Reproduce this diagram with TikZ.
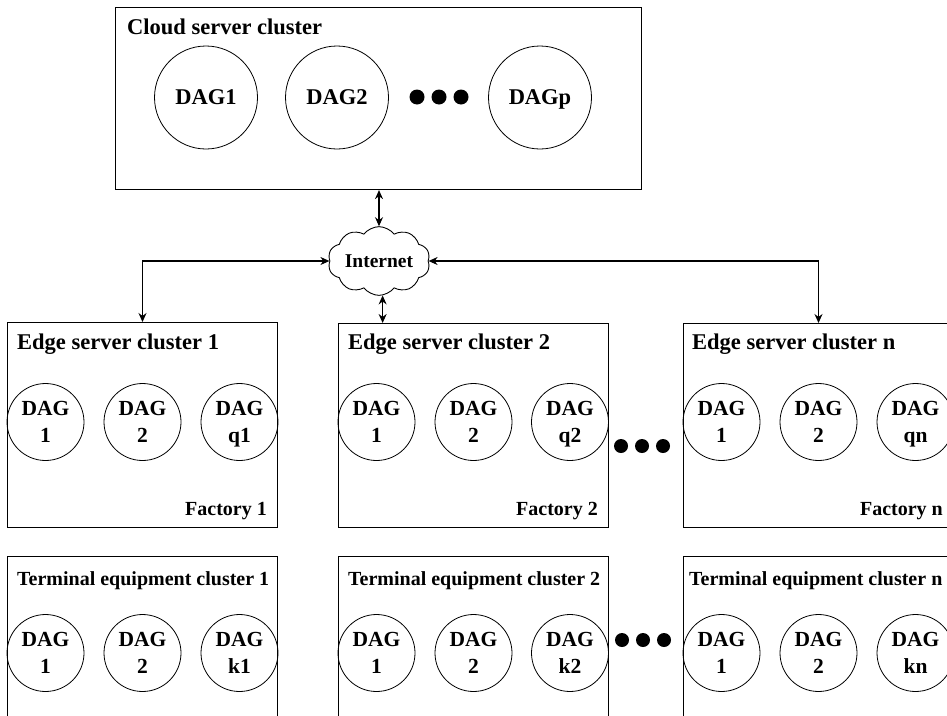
\documentclass[tikz,border=0pt]{standalone}
\usepackage{fontspec}
\setmainfont{Liberation Serif}
\usetikzlibrary{shapes.symbols,arrows.meta}
% keep descenders (p, q) from shifting a label off its circle's centre
\newcommand{\nodepth}[1]{\raisebox{0pt}[\height][0pt]{#1}}
\tikzset{
  cluster/.style={draw, line width=1.1pt, anchor=north west, inner sep=0},
  dagnode/.style={draw, circle, line width=0.8pt, minimum size=77pt, inner sep=0,
    align=center, font=\fontsize{21.5}{27}\selectfont\bfseries},
  bigdag/.style={dagnode, minimum size=103pt, font=\fontsize{22.5}{27}\selectfont\bfseries},
  heading/.style={anchor=base west, inner sep=0, font=\fontsize{22.5}{27}\selectfont\bfseries},
  subhead/.style={anchor=base west, inner sep=0, font=\fontsize{20}{24}\selectfont\bfseries},
  factory/.style={anchor=base east, inner sep=0, font=\fontsize{20}{24}\selectfont\bfseries},
  dot/.style={circle, fill, minimum size=14pt, inner sep=0},
  bigdot/.style={dot, minimum size=15pt},
  link/.style={line width=1.1pt, {Stealth[length=9pt,width=8pt]}-{Stealth[length=9pt,width=8pt]}},
}
\begin{document}
\begin{tikzpicture}[x=1pt, y=-1pt]
\useasboundingbox (0,0) rectangle (947,715);
\clip (0,0) rectangle (947,715);

% cloud tier
\node[cluster, minimum width=526pt, minimum height=182pt] (cbox) at (115,7) {};
\node[heading] (ctitle) at (127,34) {Cloud server cluster};
\node[bigdag] (c1) at (206,97.5) {DAG1};
\node[bigdag] (c2) at (337,97.5) {DAG2};
\node[bigdot] (cd1) at (417,97) {};
\node[bigdot] (cd2) at (439,97) {};
\node[bigdot] (cd3) at (461,97) {};
\node[bigdag] (cp) at (540,97.5) {\nodepth{DAGp}};

% internet
\node[cloud, draw, line width=0.9pt, cloud puffs=10, cloud puff arc=105, aspect=1.7,
      minimum width=102pt, minimum height=60pt, inner sep=0,
      font=\fontsize{19.5}{23}\selectfont\bfseries] (inet) at (379,261) {Internet};

% edge tier
\node[cluster, minimum width=270pt, minimum height=205pt] (e1) at (7,322) {};
\node[cluster, minimum width=270pt, minimum height=204pt] (e2) at (338,323) {};
\node[cluster, minimum width=270pt, minimum height=204pt] (en) at (683,323) {};
\node[heading] (e1t) at (17,349) {Edge server cluster 1};
\node[heading] (e2t) at (348,349) {Edge server cluster 2};
\node[heading] (ent) at (692,349) {Edge server cluster n};
\node[factory] (e1f) at (267,515) {Factory 1};
\node[factory] (e2f) at (598,515) {Factory 2};
\node[factory] (enf) at (943,515) {Factory n};

\node[dagnode] (e1a) at (45.5,422) {DAG\\1};
\node[dagnode] (e1b) at (142.5,422) {DAG\\2};
\node[dagnode] (e1c) at (239.5,422) {DAG\\\nodepth{q1}};
\node[dagnode] (e2a) at (376.5,422) {DAG\\1};
\node[dagnode] (e2b) at (473.5,422) {DAG\\2};
\node[dagnode] (e2c) at (570,422) {DAG\\\nodepth{q2}};
\node[dagnode] (ena) at (721.5,422) {DAG\\1};
\node[dagnode] (enb) at (818.5,422) {DAG\\2};
\node[dagnode] (enc) at (915.5,422) {DAG\\\nodepth{qn}};
\node[dot] (ed1) at (621,446) {};
\node[dot] (ed2) at (642,446) {};
\node[dot] (ed3) at (663,446) {};

% terminal tier
\node[cluster, minimum width=270pt, minimum height=190pt] (t1) at (7,556) {};
\node[cluster, minimum width=270pt, minimum height=190pt] (t2) at (338,556) {};
\node[cluster, minimum width=270pt, minimum height=190pt] (tn) at (683,556) {};
\node[subhead] (t1t) at (17,585) {Terminal equipment cluster 1};
\node[subhead] (t2t) at (348,585) {Terminal equipment cluster 2};
\node[subhead] (tnt) at (689,585) {Terminal equipment cluster n};

\node[dagnode] (t1a) at (45.5,653) {DAG\\1};
\node[dagnode] (t1b) at (142.5,653) {DAG\\2};
\node[dagnode] (t1c) at (239.5,653) {DAG\\k1};
\node[dagnode] (t2a) at (376.5,653) {DAG\\1};
\node[dagnode] (t2b) at (473.5,653) {DAG\\2};
\node[dagnode] (t2c) at (570,653) {DAG\\k2};
\node[dagnode] (tna) at (721.5,653) {DAG\\1};
\node[dagnode] (tnb) at (818.5,653) {DAG\\2};
\node[dagnode] (tnc) at (915.5,653) {DAG\\kn};
\node[dot] (td1) at (622,640) {};
\node[dot] (td2) at (643,640) {};
\node[dot] (td3) at (664,640) {};

% links through the internet
\draw[link] (inet.north) -- (inet.north |- cbox.south);
\draw[link] (inet.-84) -- (inet.-84 |- e2.north);
\draw[link] (inet.west) -| (e1b |- e1.north);
\draw[link] (inet.east) -| (enb |- en.north);
\end{tikzpicture}
\end{document}
